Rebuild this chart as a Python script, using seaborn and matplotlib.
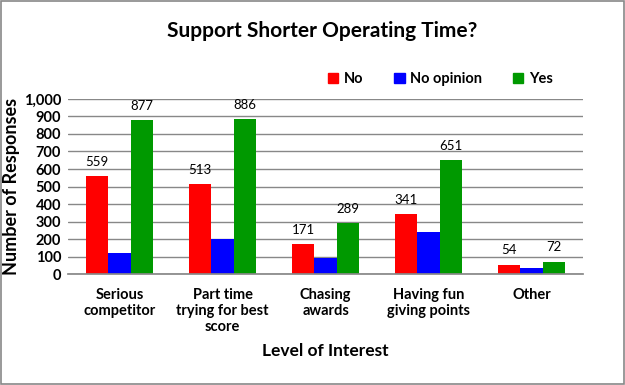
import matplotlib
matplotlib.use('Agg')
import matplotlib.pyplot as plt
import seaborn as sns
import pandas as pd
from matplotlib.patches import Rectangle

categories = ["Serious\ncompetitor", "Part time\ntrying for best\nscore", "Chasing\nawards",
              "Having fun\ngiving points", "Other"]
series = ["No", "No opinion", "Yes"]
no_vals = [559, 513, 171, 341, 54]
noop_vals = [120, 200, 93, 242, 36]
yes_vals = [877, 886, 289, 651, 72]
yticks = list(range(0, 1001, 100))

rows = []
for i, c in enumerate(categories):
    rows.append({"Category": c, "Series": "No", "Value": no_vals[i]})
    rows.append({"Category": c, "Series": "No opinion", "Value": noop_vals[i]})
    rows.append({"Category": c, "Series": "Yes", "Value": yes_vals[i]})
df = pd.DataFrame(rows)

sns.set_theme(style="white")
plt.rcParams['font.family'] = ['Lato', 'DejaVu Sans']
plt.rcParams['text.color'] = 'black'
plt.rcParams['axes.labelcolor'] = 'black'
plt.rcParams['xtick.color'] = 'black'
plt.rcParams['ytick.color'] = 'black'

fig = plt.figure(figsize=(6.25, 3.85), dpi=100)
ax = fig.add_axes([0.109, 0.288, 0.824, 0.455])

palette = {"No": "#ff0000", "No opinion": "#0000ff", "Yes": "#009900"}
sns.barplot(data=df, x="Category", y="Value", hue="Series", hue_order=series,
            palette=palette, width=0.65, saturation=1, linewidth=0, ax=ax, legend=False)

# labels on No and Yes bars only
for cont, name in zip(ax.containers, series):
    if name != "No opinion":
        ax.bar_label(cont, padding=6, fontsize=9.5, color="black")

ax.set_ylim(0, 1000)
ax.set_yticks(yticks)
ax.set_yticklabels([f"{v:,}" for v in yticks], fontweight="bold", fontsize=10.5)
ax.set_xticklabels(categories, fontweight="bold", fontsize=10.5, va="top")
ax.tick_params(axis='both', length=0, pad=5)
ax.tick_params(axis='x', pad=10)
ax.yaxis.grid(True, color="#888888", linewidth=1)
ax.set_axisbelow(True)
for s in ["top", "right", "left"]:
    ax.spines[s].set_visible(False)
ax.spines["bottom"].set_color("#888888")
ax.set_xlabel("Level of Interest", fontweight="bold", fontsize=12.5, labelpad=6)
ax.set_ylabel("Number of Responses", fontweight="bold", fontsize=13, labelpad=3)

fig.text(0.515, 0.92, "Support Shorter Operating Time?", ha="center", va="center",
         fontweight="bold", fontsize=15)

handles = [Rectangle((0, 0), 1, 1, color=palette[s]) for s in series]
fig.legend(handles, series, loc="center", bbox_to_anchor=(0.705, 0.795), ncol=3,
           frameon=False, handlelength=0.7, handleheight=0.7, columnspacing=2.1,
           handletextpad=0.4, prop={"weight": "bold", "size": 10.5})

fig.patches.append(Rectangle((0.001, 0.002), 0.997, 0.995, transform=fig.transFigure,
                             fill=False, edgecolor="#888888", linewidth=1.2))

fig.savefig("out.png", dpi=100)
